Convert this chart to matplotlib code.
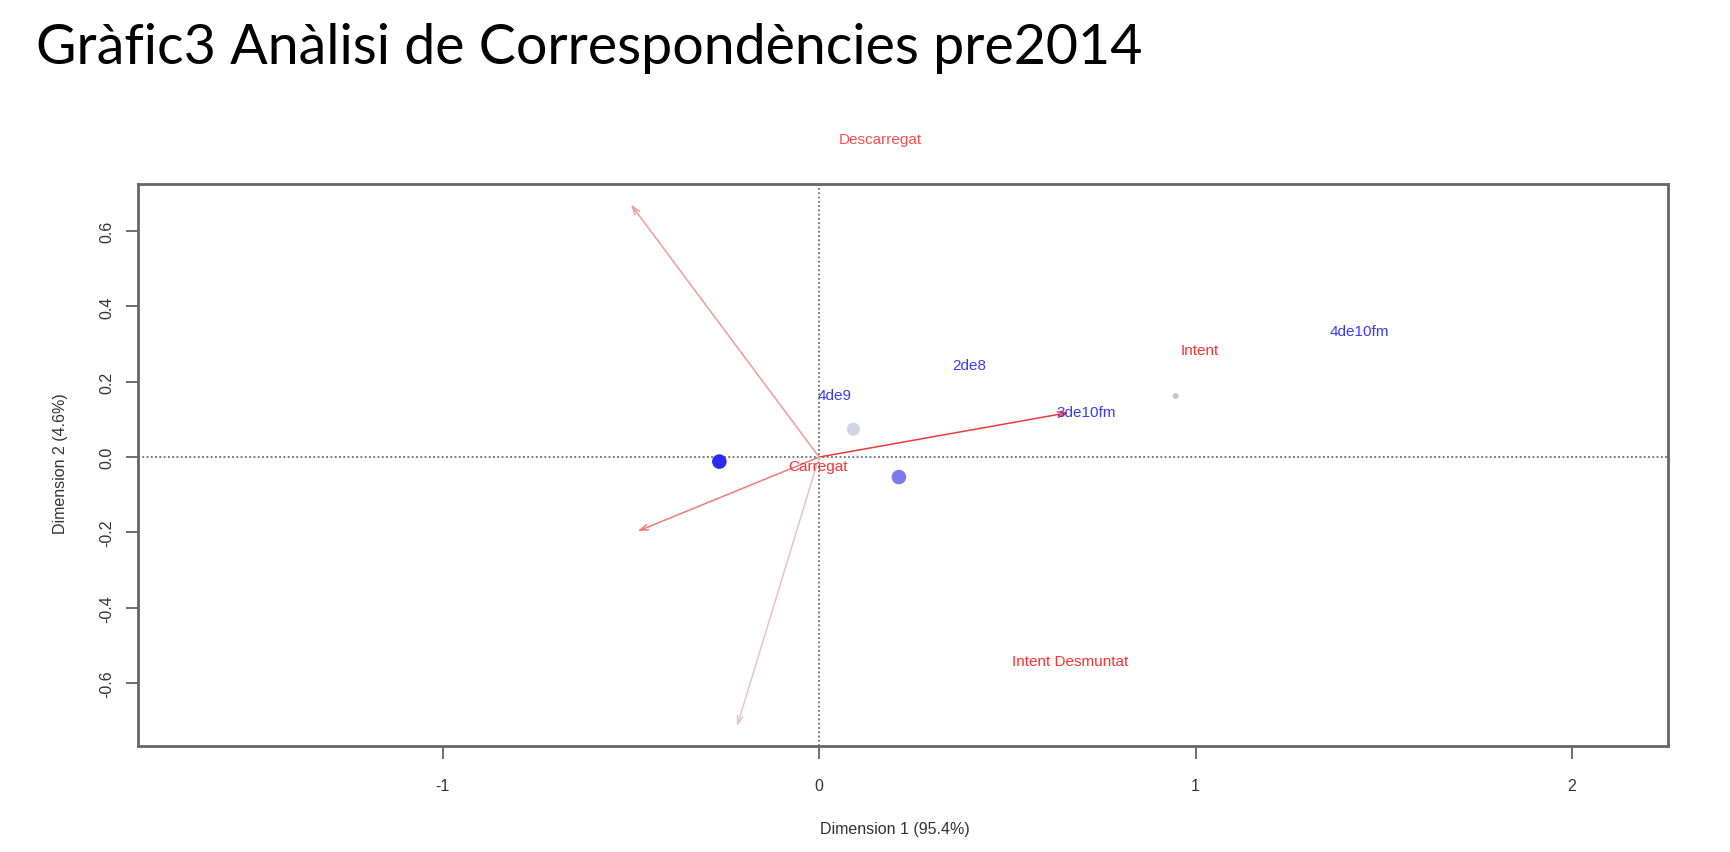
import matplotlib
matplotlib.use("Agg")
import matplotlib.pyplot as plt

# ---- data ----
title = "Gràfic3 Anàlisi de Correspondències pre2014"
x_label = "Dimension 1 (95.4%)"
y_label = "Dimension 2 (4.6%)"

x_ticks = [-1, 0, 1, 2]
y_ticks = [-0.6, -0.4, -0.2, 0.0, 0.2, 0.4, 0.6]

row_labels = ["4de9", "2de8", "3de10fm", "4de10fm"]
row_label_x = [0.041, 0.40, 0.709, 1.435]
row_label_y = [0.165, 0.244, 0.121, 0.335]

point_x = [-0.265, 0.091, 0.212, 0.947]
point_y = [-0.012, 0.074, -0.053, 0.162]
point_colors = ["#2a2af0", "#d4d4e4", "#7a7aec", "#c4c4d8"]
point_sizes = [110, 90, 110, 18]

col_labels = ["Descarregat", "Intent", "Carregat", "Intent Desmuntat"]
col_label_x = [0.162, 1.012, -0.003, 0.668]
col_label_y = [0.844, 0.285, -0.024, -0.541]
col_label_colors = ["#ff4d4d", "#ff3030", "#ff3030", "#ff3030"]

arrow_x = [-0.50, 0.662, -0.482, -0.218]
arrow_y = [0.671, 0.118, -0.197, -0.715]
arrow_colors = ["#f29a9a", "#ee3a3a", "#ef7a7a", "#e6c4c4"]

# ---- figure ----
fig = plt.figure(figsize=(17.3, 8.53), dpi=100)
ax = fig.add_axes([0.0798, 0.124, 0.8844, 0.659])
ax.set_xlim(-1.809, 2.255)
ax.set_ylim(-0.768, 0.725)

ax.axhline(0, color="#555555", lw=1.1, ls=(0, (1.2, 1.6)), zorder=1)
ax.axvline(0, color="#555555", lw=1.1, ls=(0, (1.2, 1.6)), zorder=1)

for ex, ey, c in zip(arrow_x, arrow_y, arrow_colors):
    ax.annotate("", xy=(ex, ey), xytext=(0, 0),
                arrowprops=dict(arrowstyle="->,head_length=0.6,head_width=0.2",
                                color=c, lw=1.1, shrinkA=0, shrinkB=0),
                zorder=2)

ax.scatter(point_x, point_y, s=point_sizes, c=point_colors, zorder=3, linewidths=0)

for lab, x, y in zip(row_labels, row_label_x, row_label_y):
    ax.text(x, y, lab, color="#3b3bf5", fontsize=11, family="Liberation Sans",
            ha="center", va="center", zorder=4)

for lab, x, y, c in zip(col_labels, col_label_x, col_label_y, col_label_colors):
    ax.text(x, y, lab, color=c, fontsize=11, family="Liberation Sans",
            ha="center", va="center", zorder=4, clip_on=False)

ax.set_xticks(x_ticks)
ax.set_xticklabels([str(t) for t in x_ticks])
ax.set_yticks(y_ticks)
ax.set_yticklabels([f"{t:.1f}" for t in y_ticks], rotation=90, va="center")
ax.tick_params(axis="both", length=9, width=1.2, color="#555555",
               labelcolor="#333333", labelsize=11.5)
ax.tick_params(axis="x", pad=14)
ax.tick_params(axis="y", pad=8)
for lab in ax.get_xticklabels() + ax.get_yticklabels():
    lab.set_family("Liberation Sans")
for sp in ax.spines.values():
    sp.set_color("#666666")
    sp.set_linewidth(2)

fig.text(895 / 1730, 1 - 830 / 853, x_label, ha="center", va="center",
         fontsize=11.5, color="#333333", family="Liberation Sans")
fig.text(61 / 1730, 1 - 464 / 853, y_label, ha="center", va="center",
         rotation=90, fontsize=11.5, color="#333333", family="Liberation Sans")

fig.text(36 / 1730, 1 - 64 / 853, title, ha="left", va="baseline",
         fontsize=40, color="black", family="Lato", fontweight="normal")

fig.savefig("out.png", dpi=100, facecolor="white")
